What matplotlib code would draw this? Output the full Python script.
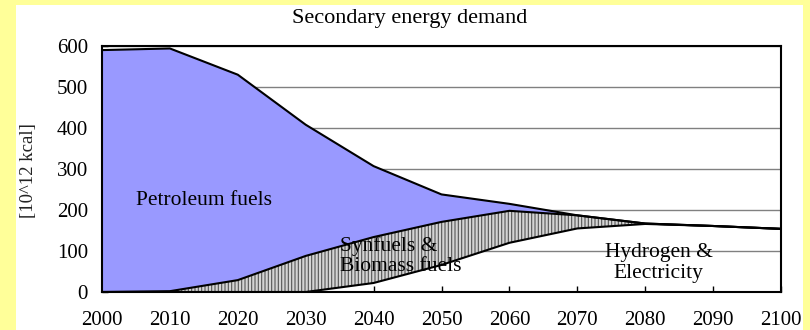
import matplotlib
matplotlib.use("Agg")
import matplotlib.pyplot as plt
import matplotlib.patches as patches

# data, [10^12 kcal]
years = [2000, 2010, 2020, 2030, 2040, 2050, 2060, 2070, 2080, 2090, 2100]
total = [590, 594, 530, 408, 307, 238, 215, 187, 167, 161, 154]          # top line
hydro_syn = [0, 2, 29, 88, 134, 171, 198, 187, 167, 161, 154]          # hydrogen + synfuels
hydrogen = [0, 0, 0, 0, 22, 66, 120, 155, 166, 161, 154]               # hydrogen & electricity

yticks = [0, 100, 200, 300, 400, 500, 600]

plt.rcParams['font.family'] = ['Liberation Serif', 'DejaVu Serif']
plt.rcParams['hatch.color'] = '#555555'
plt.rcParams['hatch.linewidth'] = 0.8

fig = plt.figure(figsize=(8.1, 3.3), dpi=100)
fig.patch.set_facecolor('#ffff99')
# white chart panel on the yellow page
fig.add_artist(patches.Rectangle((16/810, 0), (803-16)/810, 325/330,
                                 transform=fig.transFigure, facecolor='white',
                                 edgecolor='none', zorder=0))

ax = fig.add_axes([102/810, 38/330, (781-102)/810, (292-46)/330])
ax.set_facecolor('white')

ax.fill_between(years, hydro_syn, total, facecolor='#9999ff', edgecolor='none', zorder=2)
ax.fill_between(years, hydrogen, hydro_syn, facecolor='#d4d4d4', edgecolor='#555555',
                hatch='|||||', linewidth=0, zorder=2)
ax.plot(years, total, color='black', lw=1.5, zorder=3)
ax.plot(years, hydro_syn, color='black', lw=1.5, zorder=3)
ax.plot(years, hydrogen, color='black', lw=1.5, zorder=3)

ax.set_xlim(2000, 2100)
ax.set_ylim(0, 600)
ax.set_xticks(years)
ax.set_yticks(yticks)
ax.yaxis.grid(True, color='#808080', lw=1, zorder=1)
ax.set_axisbelow(True)
ax.tick_params(direction='in', length=4, width=1, labelsize=15, colors='black')
ax.tick_params(axis='x', pad=14)
ax.tick_params(axis='y', pad=10)
for s in ax.spines.values():
    s.set_linewidth(1.5)
    s.set_zorder(4)

fig.text(410/810, 1 - 19/330, 'Secondary energy demand', fontsize=16,
         ha='center', va='center')
fig.text(28.5/810, 1 - 171/330, '[10^12 kcal]', fontsize=13.5, rotation=90,
         ha='center', va='center', color='#222222')

ax.text(2005, 224, 'Petroleum fuels', fontsize=15.5, ha='left', va='center', zorder=5)
ax.text(2035, 88, 'Synfuels &\nBiomass fuels', fontsize=15.5, ha='left', va='center',
        linespacing=1.1, zorder=5)
ax.text(2082, 71, 'Hydrogen &\nElectricity', fontsize=15.5, ha='center', va='center',
        linespacing=1.15, zorder=5)

fig.savefig('out.png', dpi=100, facecolor=fig.get_facecolor())
